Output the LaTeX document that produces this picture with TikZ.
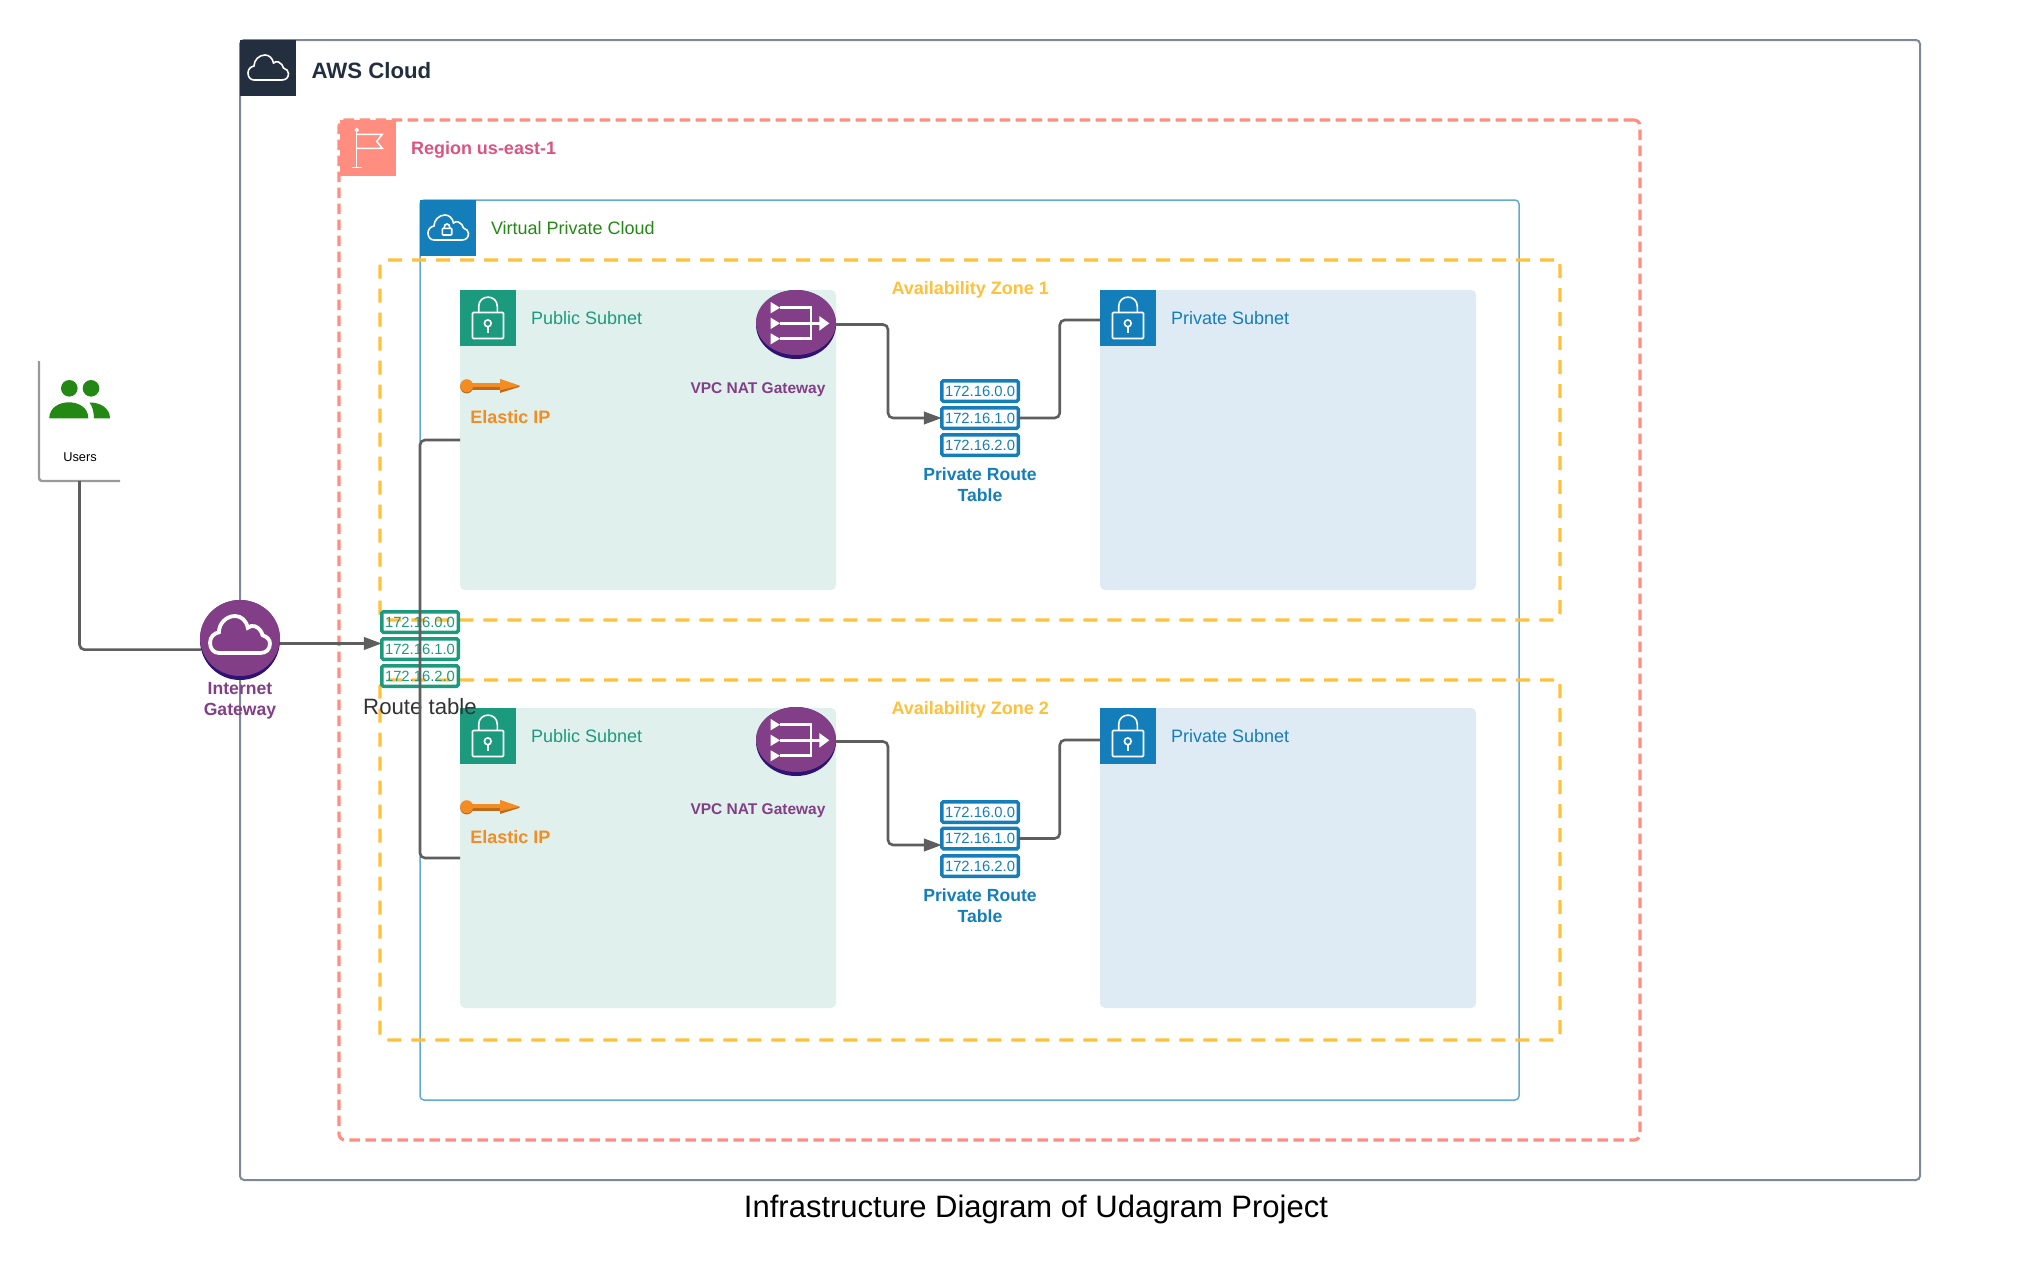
\documentclass[tikz,border=0pt]{standalone}
\usepackage{fontspec}
\setmainfont{Liberation Sans}
\usetikzlibrary{arrows.meta,positioning,shapes}

\definecolor{awsdark}{HTML}{232F3E}
\definecolor{awsline}{HTML}{7D8998}
\definecolor{regionred}{HTML}{FF8E80}
\definecolor{regiontext}{HTML}{DA5480}
\definecolor{vpcblue}{HTML}{147EBA}
\definecolor{vpcline}{HTML}{62A9D4}
\definecolor{zoneyellow}{HTML}{FFC03A}
\definecolor{pubteal}{HTML}{1B9A7E}
\definecolor{pubfill}{HTML}{E0F0EC}
\definecolor{privfill}{HTML}{DEEBF4}
\definecolor{gwpurple}{HTML}{823F87}
\definecolor{gwshade}{HTML}{2E1274}
\definecolor{eiporange}{HTML}{F28C23}
\definecolor{eipshade}{HTML}{BE6A1C}
\definecolor{usergreen}{HTML}{248814}
\definecolor{connline}{HTML}{5E5E5E}

\tikzset{
lockicon/.pic={
\draw[line width=1.6,rounded corners=1] (12.5,22.5) rectangle (43.5,48.5);
\draw[line width=1.6] (18.7,22.5) -- (18.7,16.5) .. controls (18.7,4) and (37.3,4) .. (37.3,16.5) -- (37.3,22.5);
\draw[line width=1.6] (27.8,33.3) circle[radius=3.4];
\draw[line width=1.6] (27.8,36.7) -- (27.8,43.3);
},
cloudicon/.pic={
\draw (14,40) .. controls (10,40) and (8,36.5) .. (8,33) .. controls (8,29) and (11,26.5) .. (14,26)
.. controls (14,20) and (19,15) .. (25,15) .. controls (29,15) and (32.5,18) .. (33.5,23)
.. controls (35,21.5) and (37,21.5) .. (38.5,22) .. controls (41,23) and (43,25.5) .. (43.5,28)
.. controls (46.5,29) and (48.5,31) .. (48.5,33.5) .. controls (48.5,37.5) and (46,40) .. (42,40) -- cycle;
},
flagicon/.pic={
\draw[line width=1.5] (13.3,47.3) -- (22.7,47.3);
\draw[line width=1.5] (17.7,47.3) -- (17.7,11.5);
\draw[line width=1.2] (17.7,10) circle[radius=1.5];
\draw[line width=1.5] (17.7,14.3) -- (43.3,14.3) -- (37.7,21.5) -- (43.3,28.3) -- (17.7,28.3);
},
naticon/.pic={
\fill (14.7,12) -- (24,17.7) -- (14.7,23.3) -- cycle;
\fill (14.7,27.7) -- (24,33.3) -- (14.7,39) -- cycle;
\fill (14.7,43.3) -- (24,48.7) -- (14.7,54.3) -- cycle;
\draw[line width=2.6] (24,17.7) -- (55,17.7) -- (55,48.7) -- (24,48.7);
\draw[line width=2.6] (24,33.3) -- (64,33.3);
\fill (63.3,26) -- (73.3,33.3) -- (63.3,40.7) -- cycle;
},
elasticicon/.pic={
\fill[eipshade] (6.7,1.2) circle[radius=6.5];
\fill[eipshade] (10,-1.5) rectangle (40,4);
\fill[eipshade] (40,-6.5) -- (60,1) -- (40,7.2) -- cycle;
\fill[eiporange] (6.7,0) circle[radius=6.5];
\fill[eiporange] (10,-3) rectangle (40,1.6);
\fill[eiporange] (40,-6.8) -- (60,0) -- (40,4.5) -- cycle;
}
}

\begin{document}
\begin{tikzpicture}[x=1pt,y=-1pt]
\tikzstyle{every node}=[inner sep=0, outer sep=0]
\tikzstyle{frame}=[rectangle, anchor=north west, draw]
\tikzstyle{dashframe}=[frame, line width=3.1, rounded corners=6]
\tikzstyle{subnet}=[rectangle, anchor=north west, minimum width=376, minimum height=300, rounded corners=5]
\tikzstyle{iconsq}=[rectangle, anchor=north west, minimum width=56, minimum height=56]
\tikzstyle{lbl}=[anchor=base west, font=\fontsize{18}{21}\selectfont]
\tikzstyle{lblbold}=[lbl, font=\fontsize{18}{21}\selectfont\bfseries]
\tikzstyle{natlbl}=[anchor=base, text=gwpurple, font=\fontsize{15.5}{18}\selectfont\bfseries]
\tikzstyle{routelbl}=[align=center, text=vpcblue, font=\fontsize{17.6}{21}\selectfont\bfseries]
\tikzstyle{ipbox}=[rectangle, draw, line width=3.5, rounded corners=1.5, minimum width=76.5, minimum height=20.5, font=\fontsize{14.8}{16}\selectfont]
\tikzstyle{ipteal}=[ipbox, draw=pubteal, text=pubteal]
\tikzstyle{ipblue}=[ipbox, draw=vpcblue, text=vpcblue]
\tikzstyle{natshade}=[ellipse, fill=gwshade, minimum width=80, minimum height=69]
\tikzstyle{nattop}=[ellipse, fill=gwpurple, minimum width=80, minimum height=65]
\tikzstyle{conn}=[draw=connline, line width=2.6, rounded corners=5]
\tikzstyle{connarrow}=[conn, -{Triangle[length=18pt,width=12.5pt]}]

\useasboundingbox (0,0) rectangle (2031,1283);

% frames
\node[frame, draw=awsline, line width=2, rounded corners=4, minimum width=1680, minimum height=1140] at (240,40) (aws) {};
\node[iconsq, fill=awsdark] at (240,40) (awssq) {};
\pic[white, line width=1.6] at (240,40) {cloudicon};
\node[lbl, text=awsdark, font=\fontsize{22.2}{26}\selectfont\bfseries] at (311.6,78) (awslbl) {AWS Cloud};

\node[iconsq, fill=regionred] at (339.5,120) (regionsq) {};
\node[dashframe, draw=regionred, dash pattern=on 10.5pt off 5.5pt, minimum width=1301, minimum height=1020] at (339,120) (region) {};
\pic[white] at (339,120) {flagicon};
\node[lblbold, text=regiontext] at (411,154.5) (regionlbl) {Region us-east-1};

\node[frame, draw=vpcline, line width=1.5, rounded corners=4, minimum width=1099, minimum height=900] at (420,200) (vpc) {};
\node[iconsq, fill=vpcblue] at (420,200) (vpcsq) {};
\pic[white, line width=1.6] at (420,200) {cloudicon};
\draw[white, line width=1.6, rounded corners=1] (442.3,228.3) rectangle (451.7,235);
\draw[white, line width=1.6] (444,228.3) .. controls (444,222.5) and (450,222.5) .. (450,228.3);
\node[lbl, text=usergreen] at (491,234.5) (vpclbl) {Virtual Private Cloud};

\node[dashframe, draw=zoneyellow, dash pattern=on 14pt off 10pt, minimum width=1180, minimum height=360] at (380,260) (azone) {};
\node[dashframe, draw=zoneyellow, dash pattern=on 14pt off 10pt, minimum width=1180, minimum height=360] at (380,680) (aztwo) {};
\node[lblbold, text=zoneyellow] at (891.5,294.5) (azonelbl) {Availability Zone 1};
\node[lblbold, text=zoneyellow] at (891.5,714.8) (aztwolbl) {Availability Zone 2};

% subnets
\node[subnet, fill=pubfill] at (460,290) (pubone) {};
\node[iconsq, fill=pubteal] at (460,290) (pubonesq) {};
\pic[white] at (460,290) {lockicon};
\node[lbl, text=pubteal] at (531,324) (pubonelbl) {Public Subnet};

\node[subnet, fill=privfill] at (1100,290) (privone) {};
\node[iconsq, fill=vpcblue] at (1100,290) (privonesq) {};
\pic[white] at (1100,290) {lockicon};
\node[lbl, text=vpcblue] at (1171,324) (privonelbl) {Private Subnet};

\node[subnet, fill=pubfill] at (460,708) (pubtwo) {};
\node[iconsq, fill=pubteal] at (460,708) (pubtwosq) {};
\pic[white] at (460,708) {lockicon};
\node[lbl, text=pubteal] at (531,742) (pubtwolbl) {Public Subnet};

\node[subnet, fill=privfill] at (1100,708) (privtwo) {};
\node[iconsq, fill=vpcblue] at (1100,708) (privtwosq) {};
\pic[white] at (1100,708) {lockicon};
\node[lbl, text=vpcblue] at (1171,742) (privtwolbl) {Private Subnet};

% elastic ip
\pic at (460,385.7) {elasticicon};
\node[lblbold, text=eiporange] at (470.3,423.5) (eiponelbl) {Elastic IP};
\pic at (460,806.7) {elasticicon};
\node[lblbold, text=eiporange] at (470.3,843) (eiptwolbl) {Elastic IP};

% nat gateways
\node[natshade] at (796,324.5) (natone) {};
\node[nattop] at (796,322.5) (natonetop) {};
\pic[white] at (756,290) {naticon};
\node[natlbl] at (758,393.5) (natonelbl) {VPC NAT Gateway};

\node[natshade] at (796,741.5) (nattwo) {};
\node[nattop] at (796,739.5) (nattwotop) {};
\pic[white] at (756,707) {naticon};
\node[natlbl] at (758,814.5) (nattwolbl) {VPC NAT Gateway};

% route tables
\node[ipblue] at (980,391) (rtonea) {172.16.0.0};
\node[ipblue] at (980,418) (rtoneb) {172.16.1.0};
\node[ipblue] at (980,445) (rtonec) {172.16.2.0};
\node[routelbl] at (980,484.5) (rtonelbl) {Private Route\\Table};

\node[ipblue] at (980,812) (rttwoa) {172.16.0.0};
\node[ipblue] at (980,838.5) (rttwob) {172.16.1.0};
\node[ipblue] at (980,866) (rttwoc) {172.16.2.0};
\node[routelbl] at (980,905.7) (rttwolbl) {Private Route\\Table};

\node[ipteal] at (420,622) (rta) {172.16.0.0};
\node[ipteal] at (420,649) (rtb) {172.16.1.0};
\node[ipteal] at (420,676) (rtc) {172.16.2.0};
\node[anchor=base, text=black!80, font=\fontsize{22.2}{26}\selectfont] at (420,714.5) (rtlbl) {Route table};

% users
\node[rectangle, minimum width=81, minimum height=120, anchor=north west] at (39,361) (users) {};
\draw[black!40, line width=2.4, rounded corners=3] (users.north west) -- (users.south west) -- (users.south east);
\fill[usergreen] (69.3,388.3) circle[radius=8.3];
\fill[usergreen] (91,388.3) circle[radius=8.3];
\fill[usergreen] (49.3,418.3) .. controls (49.3,407) and (60,402.3) .. (68.8,402.3) .. controls (78,402.3) and (88.3,407) .. (88.3,418.3) -- cycle;
\fill[usergreen] (89.5,402.7) .. controls (92,405) and (94,412) .. (94,418.3) -- (110,418.3) .. controls (110,408) and (100,402.7) .. (91,402.5) -- cycle;
\node[anchor=base, font=\fontsize{12.8}{15}\selectfont] at (80,461.3) (userslbl) {Users};

% internet gateway
\node[circle, fill=gwshade, minimum size=80] at (240,640) (igw) {};
\node[ellipse, fill=gwpurple, minimum width=80, minimum height=76] at (240,638) (igwtop) {};
\pic[white, line width=3.8, scale=1.48] at (198.2,593.8) {cloudicon};
\node[routelbl, text=gwpurple] at (240,700.3) (igwlbl) {Internet\\Gateway};

% connectors
\draw[conn] (users.south) |- (igw.194.5);
\draw[connarrow] (igw.-5.4) -- (igw.-5.4 -| rtb.west);
\draw[conn] (pubone.west) -- ++(-40,0) |- (pubtwo.west);
\draw[connarrow] (natone.east) -- ++(52,0) |- (rtoneb.west);
\draw[conn] (rtoneb.east) -- ++(41.5,0) |- ([yshift=-2pt]privonesq.west);
\draw[connarrow] (nattwo.east) -- ++(52,0) |- ([yshift=-6.5pt]rttwob.west);
\draw[conn] (rttwob.east) -- ++(41.5,0) |- ([yshift=-4pt]privtwosq.west);

\node[anchor=base, font=\fontsize{31}{36}\selectfont] at (1036,1217) (title) {Infrastructure Diagram of Udagram Project};

\end{tikzpicture}
\end{document}
